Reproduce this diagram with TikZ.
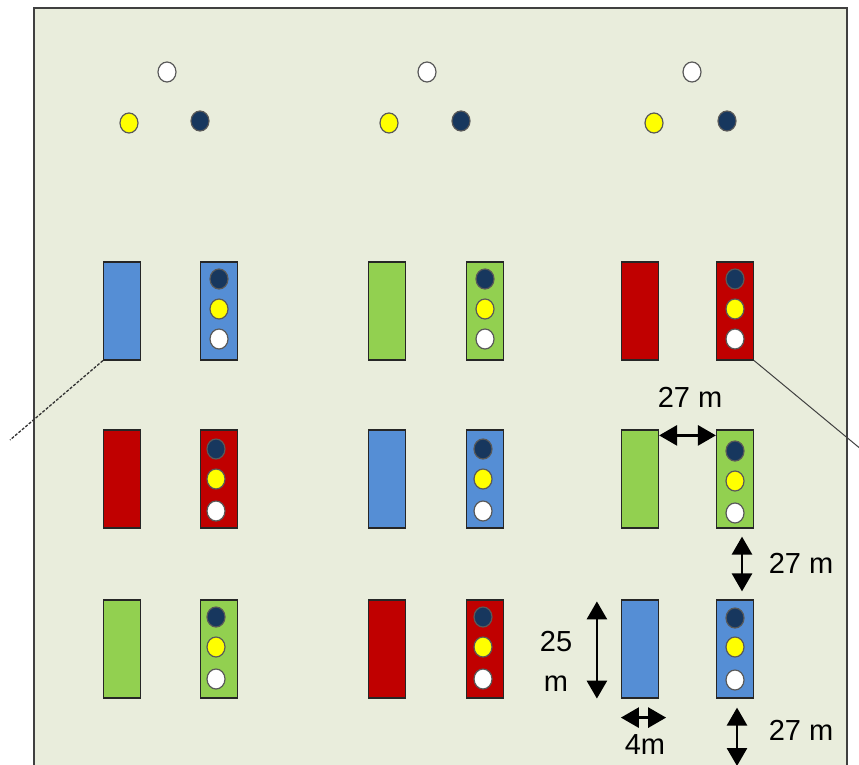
\documentclass[tikz,border=0pt]{standalone}
\usepackage{fontspec}
\setmainfont{Liberation Sans}
\usepackage{xcolor}
\usetikzlibrary{arrows.meta,shapes.geometric}

\definecolor{fieldbg}{HTML}{E9EDDC}
\definecolor{teamblue}{HTML}{558ED5}
\definecolor{teamred}{HTML}{C00000}
\definecolor{teamgreen}{HTML}{92D050}
\definecolor{conenavy}{HTML}{17375E}
\definecolor{coneyellow}{HTML}{FFFF00}

\tikzset{
	zone/.style={draw=black!85, line width=1.2pt, minimum width=37pt, minimum height=98pt, inner sep=0pt},
	cone/.style={ellipse, draw=black!65, line width=1.2pt, minimum width=18pt, minimum height=20pt, inner sep=0pt},
	dim/.style={line width=2.8pt, {Triangle[length=18pt,width=20pt]}-{Triangle[length=18pt,width=20pt]}},
	lbl/.style={font=\fontsize{29}{40}\selectfont, inner sep=0pt}
}

\begin{document}
\begin{tikzpicture}[x=1pt, y=-1pt]
		\useasboundingbox (0,0) rectangle (859,765);

		% Field.
		\draw[fill=fieldbg, line width=2pt, draw=black!75] (34,8) rectangle (847,790);

		% Cones at the top.
		\node[cone, fill=white]      (tw1) at (167,72) {};
		\node[cone, fill=coneyellow] (ty1) at (129,123) {};
		\node[cone, fill=conenavy]   (tn1) at (200,121) {};
		\node[cone, fill=white]      (tw2) at (427,72) {};
		\node[cone, fill=coneyellow] (ty2) at (389,123) {};
		\node[cone, fill=conenavy]   (tn2) at (461,121) {};
		\node[cone, fill=white]      (tw3) at (692,72) {};
		\node[cone, fill=coneyellow] (ty3) at (654,123) {};
		\node[cone, fill=conenavy]   (tn3) at (727,121) {};

		% Zones, row 1.
		\node[zone, fill=teamblue]  (L-1-1) at (122,311) {};
		\node[zone, fill=teamblue]  (R-1-1) at (219,311) {};
		\node[zone, fill=teamgreen] (L-1-2) at (387,311) {};
		\node[zone, fill=teamgreen] (R-1-2) at (485,311) {};
		\node[zone, fill=teamred]   (L-1-3) at (640,311) {};
		\node[zone, fill=teamred]   (R-1-3) at (735,311) {};

		% Zones, row 2.
		\node[zone, fill=teamred]   (L-2-1) at (122,479) {};
		\node[zone, fill=teamred]   (R-2-1) at (219,479) {};
		\node[zone, fill=teamblue]  (L-2-2) at (387,479) {};
		\node[zone, fill=teamblue]  (R-2-2) at (485,479) {};
		\node[zone, fill=teamgreen] (L-2-3) at (640,479) {};
		\node[zone, fill=teamgreen] (R-2-3) at (735,479) {};

		% Zones, row 3.
		\node[zone, fill=teamgreen] (L-3-1) at (122,649) {};
		\node[zone, fill=teamgreen] (R-3-1) at (219,649) {};
		\node[zone, fill=teamred]   (L-3-2) at (387,649) {};
		\node[zone, fill=teamred]   (R-3-2) at (485,649) {};
		\node[zone, fill=teamblue]  (L-3-3) at (640,649) {};
		\node[zone, fill=teamblue]  (R-3-3) at (735,649) {};

		% Cones in the zones.
		\node[cone, fill=conenavy]   (n11) at (219,279) {};
		\node[cone, fill=coneyellow] (y11) at (219,309) {};
		\node[cone, fill=white]      (w11) at (219,339) {};
		\node[cone, fill=conenavy]   (n12) at (485,279) {};
		\node[cone, fill=coneyellow] (y12) at (485,309) {};
		\node[cone, fill=white]      (w12) at (485,339) {};
		\node[cone, fill=conenavy]   (n13) at (735,279) {};
		\node[cone, fill=coneyellow] (y13) at (735,309) {};
		\node[cone, fill=white]      (w13) at (735,339) {};

		\node[cone, fill=conenavy]   (n21) at (216,449) {};
		\node[cone, fill=coneyellow] (y21) at (216,479) {};
		\node[cone, fill=white]      (w21) at (216,511) {};
		\node[cone, fill=conenavy]   (n22) at (483,449) {};
		\node[cone, fill=coneyellow] (y22) at (483,479) {};
		\node[cone, fill=white]      (w22) at (483,511) {};
		\node[cone, fill=conenavy]   (n23) at (735,451) {};
		\node[cone, fill=coneyellow] (y23) at (735,481) {};
		\node[cone, fill=white]      (w23) at (735,513) {};

		\node[cone, fill=conenavy]   (n31) at (216,617) {};
		\node[cone, fill=coneyellow] (y31) at (216,647) {};
		\node[cone, fill=white]      (w31) at (216,679) {};
		\node[cone, fill=conenavy]   (n32) at (483,617) {};
		\node[cone, fill=coneyellow] (y32) at (483,647) {};
		\node[cone, fill=white]      (w32) at (483,679) {};
		\node[cone, fill=conenavy]   (n33) at (735,618) {};
		\node[cone, fill=coneyellow] (y33) at (735,647) {};
		\node[cone, fill=white]      (w33) at (735,680) {};

		% Lines leaving the field.
		\coordinate (outL) at (10,440);
		\coordinate (outR) at (862,450);
		\draw[line width=1.3pt, black!80, dash pattern=on 3pt off 1.5pt] (L-1-1.south west) -- (outL);
		\draw[line width=1pt, black!75] (R-1-3.south east) -- (outR);

		% Distances.
		\draw[dim] ([yshift=-6pt]L-2-3.north east) -- ([yshift=-6pt]R-2-3.north west);
		\node[lbl] (d1) at (690,397) {27 m};

		\draw[dim] ([xshift=7pt,yshift=-8pt]R-2-3.south) -- ([xshift=7pt,yshift=8pt]R-3-3.north);
		\node[lbl] (d2) at (801,563) {27 m};

		\coordinate (downEnd) at (737,766);
		\draw[dim] ([xshift=2pt,yshift=-9pt]R-3-3.south) -- (downEnd);
		\node[lbl] (d3) at (801,730) {27 m};

		\draw[dim] ([xshift=-24pt,yshift=-2pt]L-3-3.north west) -- ([xshift=-24pt]L-3-3.south west);
		\node[lbl, align=center] (d4) at (556,661) {25\\m};

		\draw[dim] ([yshift=-19pt]L-3-3.south west) -- ([xshift=7pt,yshift=-19pt]L-3-3.south east);
		\node[lbl] (d5) at (645,745) {4m};

	\end{tikzpicture}
\end{document}
